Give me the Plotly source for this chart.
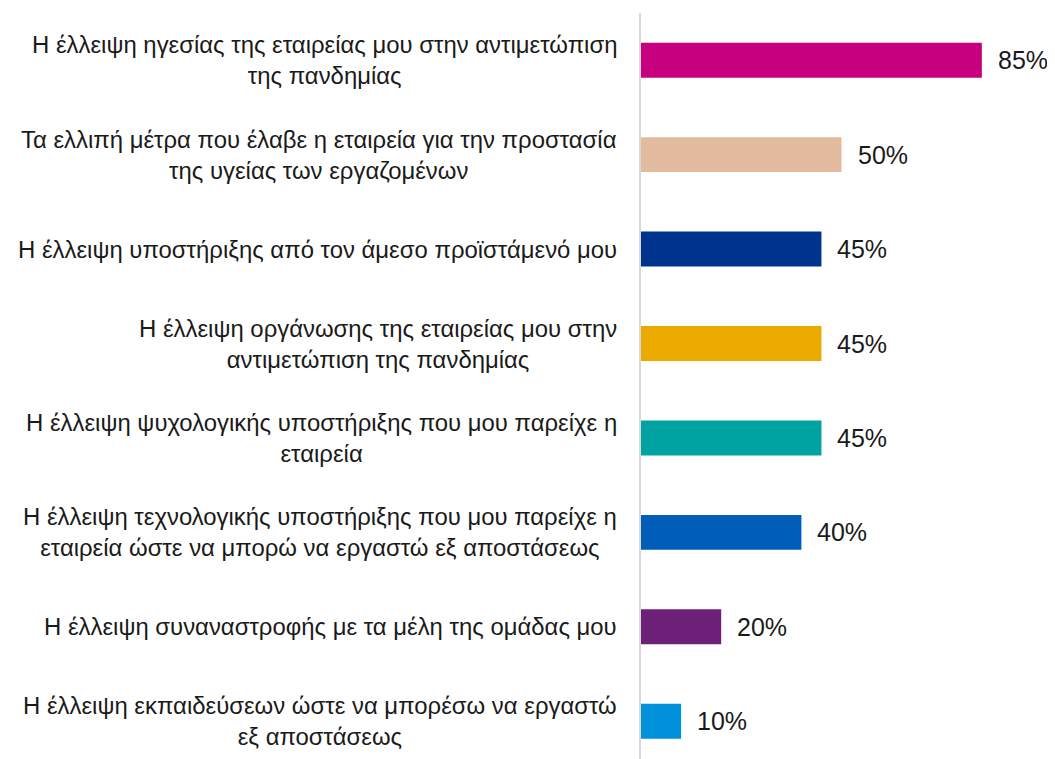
import plotly.graph_objects as go

labels = [
    "Η έλλειψη ηγεσίας της εταιρείας μου στην αντιμετώπιση<br>της πανδημίας",
    "Τα ελλιπή μέτρα που έλαβε η εταιρεία για την προστασία<br>της υγείας των εργαζομένων",
    "Η έλλειψη υποστήριξης από τον άμεσο προϊστάμενό μου",
    "Η έλλειψη οργάνωσης της εταιρείας μου στην<br>αντιμετώπιση της πανδημίας",
    "Η έλλειψη ψυχολογικής υποστήριξης που μου παρείχε η<br>εταιρεία",
    "Η έλλειψη τεχνολογικής υποστήριξης που μου παρείχε η<br>εταιρεία ώστε να μπορώ να εργαστώ εξ αποστάσεως",
    "Η έλλειψη συναναστροφής με τα μέλη της ομάδας μου",
    "Η έλλειψη εκπαιδεύσεων ώστε να μπορέσω να εργαστώ<br>εξ αποστάσεως",
]
values = [85, 50, 45, 45, 45, 40, 20, 10]
colors = ["#C6007E", "#E3BC9F", "#00338D", "#EAAA00",
          "#00A3A1", "#005EB8", "#6D2077", "#0091DA"]

FONT = "Arial, Liberation Sans, sans-serif"

fig = go.Figure(
    go.Bar(
        x=values,
        y=labels,
        orientation="h",
        marker={"color": colors, "line": {"width": 0}},
        width=0.37,
        hoverinfo="skip",
    )
)

# category labels: centred lines, right edge just left of the axis
for lab in labels:
    fig.add_annotation(
        x=0, y=lab, xref="x", yref="y",
        text=lab, showarrow=False,
        xanchor="right", xshift=-22, align="center",
        font={"family": FONT, "size": 23.9, "color": "#1a1a1a"},
    )

# value labels to the right of each bar
for lab, val in zip(labels, values):
    fig.add_annotation(
        x=val, y=lab, xref="x", yref="y",
        text=f"{val}%", showarrow=False,
        xanchor="left", xshift=14,
        font={"family": FONT, "size": 25, "color": "#1a1a1a"},
    )

fig.update_xaxes(range=[0, 100], visible=False)
fig.update_yaxes(
    type="category",
    range=[7.4, -0.5],
    showticklabels=False,
    showgrid=False,
    zeroline=False,
    showline=True,
    linecolor="#D9D9D9",
    linewidth=1.5,
    ticks="",
)
# page body has an 8px margin, so the figure is sized to the visible area
fig.update_layout(
    width=1047,
    height=751,
    plot_bgcolor="white",
    paper_bgcolor="white",
    showlegend=False,
    margin={"l": 633, "r": 13, "t": 5, "b": 0},
)

fig.write_html("out.html")
